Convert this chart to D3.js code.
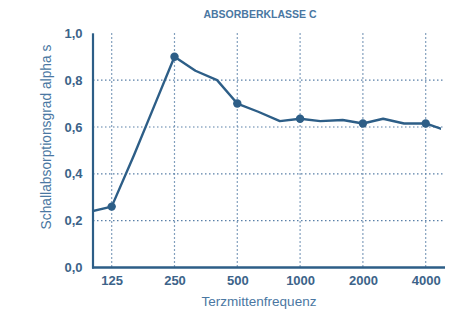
<!DOCTYPE html>
<html>
<head>
<meta charset="utf-8">
<script src="https://cdn.jsdelivr.net/npm/d3@7"></script>
<style>
  html, body { margin: 0; padding: 0; background: #fff; }
  svg { display: block; font-family: "Liberation Sans", Arial, sans-serif; }
</style>
</head>
<body>
<svg id="chart" width="462" height="316"></svg>
<script>
// ---- data ----
const frequencies = [100, 125, 160, 200, 250, 315, 400, 500, 630, 800, 1000, 1250, 1600, 2000, 2500, 3150, 4000, 5000];
const alphaS      = [0.24, 0.26, 0.48, 0.69, 0.90, 0.84, 0.80, 0.70, 0.665, 0.625, 0.635, 0.625, 0.63, 0.615, 0.635, 0.615, 0.615, 0.585];
const markedFreqs = [125, 250, 500, 1000, 2000, 4000];
const xTickLabels = ["125", "250", "500", "1000", "2000", "4000"];
const yTicks      = [0, 0.2, 0.4, 0.6, 0.8, 1.0];
const yGridTicks  = [0.2, 0.4, 0.6, 0.8];
const chartTitle  = "ABSORBERKLASSE C";
const xTitle = "Terzmittenfrequenz";
const yTitle = "Schallabsorptionsgrad alpha s";

// ---- layout ----
const plotLeft = 93, plotRight = 445, plotTop = 33.3, plotBottom = 267.5, clipRight = 441;
const mainColor = "#2d5e87";
const textColor = "#3c6389";
const titleColor = "#4a77a2";
const gridColor = "#5a80a8";

const svg = d3.select("#chart");

const x = d3.scaleLog().domain([101.7, 4950]).range([plotLeft, plotRight]);
const y = d3.scaleLinear().domain([0, 1]).range([plotBottom, plotTop]);

// grid
const grid = svg.append("g");
grid.selectAll("line.h").data(yGridTicks).join("line")
  .attr("x1", plotLeft).attr("x2", plotRight - 2)
  .attr("y1", d => y(d)).attr("y2", d => y(d))
  .attr("stroke", gridColor).attr("stroke-width", 1.2)
  .attr("stroke-dasharray", "1.5,2.5");
grid.selectAll("line.v").data(markedFreqs).join("line")
  .attr("x1", d => x(d)).attr("x2", d => x(d))
  .attr("y1", plotTop).attr("y2", plotBottom)
  .attr("stroke", gridColor).attr("stroke-width", 1.2)
  .attr("stroke-dasharray", "1.5,2.5");

// clip for the data line
svg.append("clipPath").attr("id", "plotclip")
  .append("rect").attr("x", plotLeft).attr("y", 0)
  .attr("width", clipRight - plotLeft).attr("height", 316);

const data = frequencies.map((f, i) => ({ f, v: alphaS[i] }));
const line = d3.line().x(d => x(d.f)).y(d => y(d.v));

svg.append("path").datum(data)
  .attr("clip-path", "url(#plotclip)")
  .attr("d", line)
  .attr("fill", "none")
  .attr("stroke", mainColor)
  .attr("stroke-width", 2.4)
  .attr("stroke-linejoin", "round");

svg.selectAll("circle.pt").data(data.filter(d => markedFreqs.includes(d.f))).join("circle")
  .attr("cx", d => x(d.f)).attr("cy", d => y(d.v))
  .attr("r", 4.2).attr("fill", mainColor);

// axes
const yAxis = d3.axisLeft(y).tickValues(yTicks).tickSize(0).tickPadding(10.5)
  .tickFormat(d => d3.format(".1f")(d).replace(".", ","));
const gy = svg.append("g").attr("transform", `translate(${plotLeft},0)`).call(yAxis);
gy.select(".domain").remove();
gy.selectAll("text").attr("fill", textColor).attr("font-size", 13)
  .attr("font-weight", "bold").attr("font-family", "Liberation Sans, Arial, sans-serif");

const xAxis = d3.axisBottom(x).tickValues(markedFreqs).tickSize(0).tickPadding(8)
  .tickFormat((d, i) => xTickLabels[i]);
const gx = svg.append("g").attr("transform", `translate(0,${plotBottom})`).call(xAxis);
gx.select(".domain").remove();
gx.selectAll("text").attr("fill", textColor).attr("font-size", 13)
  .attr("font-weight", "bold").attr("font-family", "Liberation Sans, Arial, sans-serif");

// axis lines
svg.append("line").attr("x1", plotLeft).attr("x2", plotLeft).attr("y1", plotTop).attr("y2", plotBottom + 1)
  .attr("stroke", mainColor).attr("stroke-width", 2.2);
svg.append("line").attr("x1", plotLeft - 1).attr("x2", plotRight).attr("y1", plotBottom).attr("y2", plotBottom)
  .attr("stroke", mainColor).attr("stroke-width", 2.6);

// titles
svg.append("text").attr("x", 260).attr("y", 17.5).attr("text-anchor", "middle")
  .attr("font-size", 10.5).attr("font-weight", "bold").attr("fill", titleColor)
  .text(chartTitle);
svg.append("text").attr("x", 259).attr("y", 306).attr("text-anchor", "middle")
  .attr("font-size", 13.5).attr("fill", titleColor).text(xTitle);
svg.append("text").attr("transform", "translate(50.5,137) rotate(-90)").attr("text-anchor", "middle")
  .attr("font-size", 13.8).attr("fill", titleColor).text(yTitle);
</script>
</body>
</html>
